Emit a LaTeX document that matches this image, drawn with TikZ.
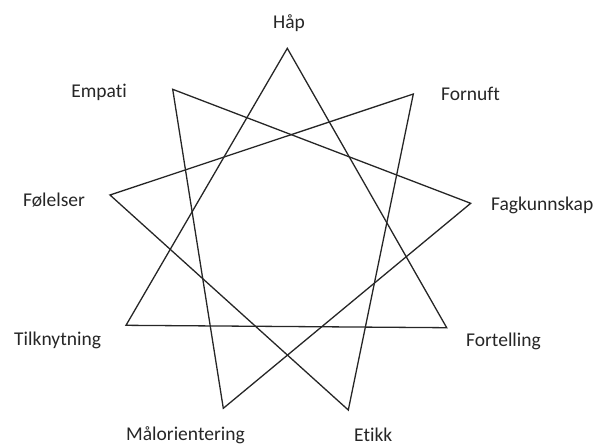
\documentclass[tikz,border=0pt]{standalone}
\usepackage{fontspec}
\setmainfont{Carlito}[Ligatures={NoCommon}]
\begin{document}
\begin{tikzpicture}[x=1pt,y=-1pt,
  starline/.style={line width=1.3pt,draw=black!85,line join=miter},
  lbl/.style={inner sep=0pt,font=\fontsize{19.5}{22}\selectfont,text=black!85}]
\useasboundingbox (0,0) rectangle (602,445);
\coordinate (hap) at (287.3,48.3);
\coordinate (fornuft) at (413.3,94);
\coordinate (fag) at (470.7,203.3);
\coordinate (fort) at (446.7,327.7);
\coordinate (etikk) at (348.3,410);
\coordinate (maal) at (223.3,408.3);
\coordinate (tilk) at (126,325.3);
\coordinate (fol) at (110,195);
\coordinate (emp) at (172.7,89.3);
\draw[starline] (hap) -- (fort) -- (tilk) -- cycle;
\draw[starline] (fornuft) -- (etikk) -- (fol) -- cycle;
\draw[starline] (fag) -- (maal) -- (emp) -- cycle;
\node[lbl,anchor=base] (lhap) at (289,28) {Håp};
\node[lbl,anchor=base west] (lfornuft) at (441,100) {Fornuft};
\node[lbl,anchor=base west] (lfag) at (491,210) {Fagkunnskap};
\node[lbl,anchor=base west] (lfort) at (466,346.5) {Fortelling};
\node[lbl,anchor=base west] (letikk) at (354,441.5) {Etikk};
\node[lbl,anchor=base west] (lmaal) at (126,440) {Målorientering};
\node[lbl,anchor=base west] (ltilk) at (14,345) {Tilknytning};
\node[lbl,anchor=base west] (lfol) at (23,206) {Følelser};
\node[lbl,anchor=base east] (lemp) at (127,97) {Empati};
\end{tikzpicture}
\end{document}
